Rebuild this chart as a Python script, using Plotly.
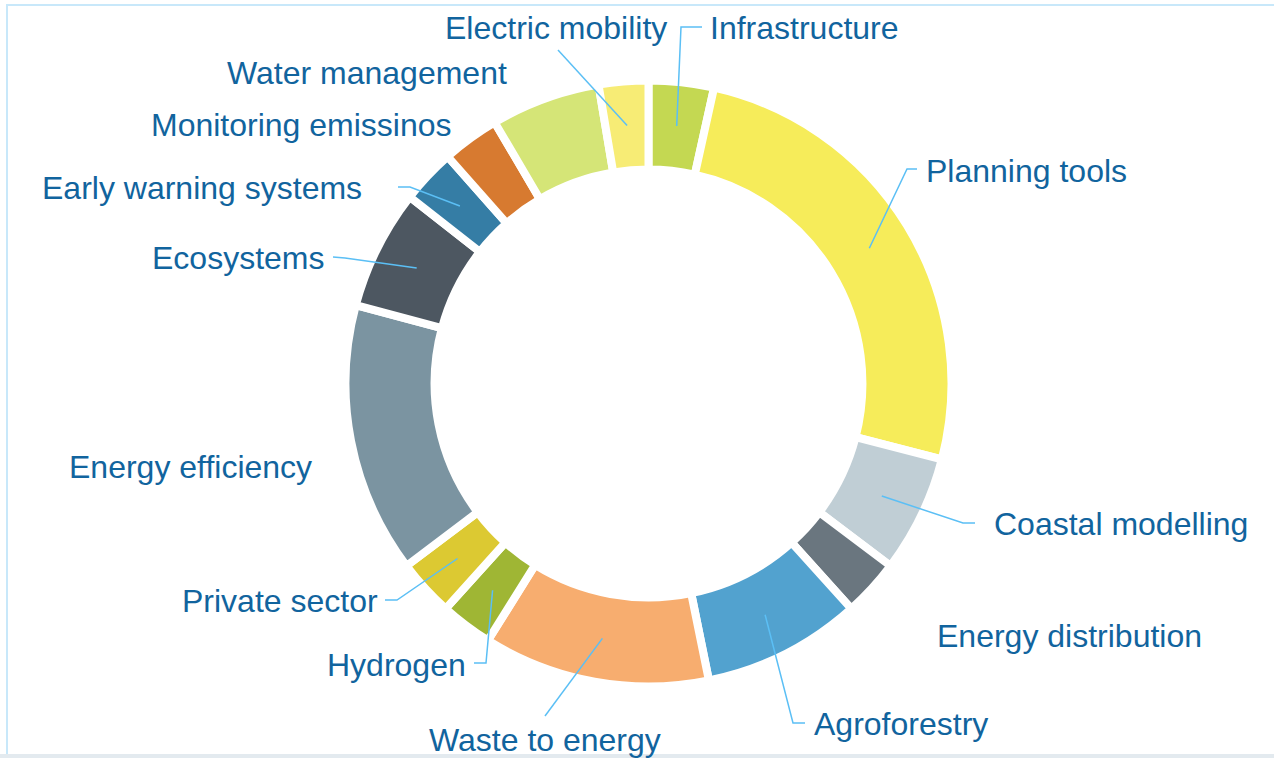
import math
import plotly.graph_objects as go

# share of projects per theme (clockwise from 12 o'clock)
themes = ["Infrastructure", "Planning tools", "Coastal modelling", "Energy distribution",
          "Agroforestry", "Waste to energy", "Hydrogen", "Private sector",
          "Energy efficiency", "Ecosystems", "Early warning systems",
          "Monitoring emissinos", "Water management", "Electric mobility"]
counts = [25, 184, 45, 22, 61, 87, 20, 22, 104, 46, 21, 22, 42, 19]

colors = ["#c4d852", "#f6ec5a", "#c0ced5", "#6a767f", "#52a2cf", "#f7ad6f", "#9fb634",
          "#dcc932", "#7b94a1", "#4d5761", "#357da5", "#d77a30", "#d5e577", "#f7ec75"]

W, H = 1274, 758
CX, CY = 648.5, 383.5     # donut centre in px
R = 303                    # outer radius incl. white border
TEXT = "#11649e"
LINE = "#5bbff5"

# label layout: text x, y, anchor, leader knee, leader end (None = no leader)
labels = {
    "Infrastructure":        (708, 28, "left",   (681, 27), (702, 27)),
    "Planning tools":        (924, 171, "left",  (907, 169), (917, 169)),
    "Coastal modelling":     (992, 524, "left",  (963, 523), (975, 523)),
    "Energy distribution":   (935, 636, "left",  None, None),
    "Agroforestry":          (812, 724, "left",  (793, 723), (805, 723)),
    "Waste to energy":       (545, 740, "center", (545, 716), (545, 716)),
    "Hydrogen":              (468, 665, "right", (486, 663), (474, 663)),
    "Private sector":        (380, 601, "right", (397, 600), (385, 600)),
    "Energy efficiency":     (314, 467, "right", None, None),
    "Ecosystems":            (326, 258, "right", (345, 258), (333, 257)),
    "Early warning systems": (364, 188, "right", (410, 187), (398, 187)),
    "Monitoring emissinos":  (454, 125, "right", None, None),
    "Water management":      (509, 73, "right",  None, None),
    "Electric mobility":     (669, 28, "right",  (558, 50), (558, 50)),
}

fig = go.Figure()

fig.add_trace(go.Pie(
    labels=themes, values=counts, sort=False, direction="clockwise", rotation=0,
    hole=0.706, textinfo="none", hoverinfo="label+value",
    marker=dict(colors=colors, line=dict(color="white", width=8)),
    domain=dict(x=[(CX - R) / W, (CX + R) / W], y=[(H - CY - R) / H, (H - CY + R) / H]),
    showlegend=False,
))

# leader lines from slice middle out to the label (shapes so they sit above the pie)
total = sum(counts)
cum = 0
for name, v in zip(themes, counts):
    mid = math.radians((cum + v / 2) / total * 360)
    cum += v
    tx, ty, anchor, knee, end = labels[name]
    if knee is not None:
        x0 = CX + 259 * math.sin(mid)
        y0 = CY - 259 * math.cos(mid)
        fig.add_shape(type="path", xref="x", yref="y", layer="above",
                      path=f"M {x0:.1f} {y0:.1f} L {knee[0]} {knee[1]} L {end[0]} {end[1]}",
                      line=dict(color=LINE, width=1.5))
    fig.add_annotation(x=tx, y=ty, xref="x", yref="y", text=name, showarrow=False,
                       xanchor=anchor, yanchor="middle",
                       font=dict(family="Liberation Sans, Arial", size=32, color=TEXT))

# frame
fig.add_shape(type="rect", xref="x", yref="y", x0=7, y0=5, x1=1290, y1=760,
              line=dict(color="#c8e8fa", width=2), layer="below")
fig.add_shape(type="rect", xref="x", yref="y", x0=0, y0=754, x1=W, y1=H,
              line=dict(width=0), fillcolor="#e3eaef", layer="below")

fig.update_layout(
    width=W, height=H, margin=dict(l=0, r=0, t=0, b=0),
    paper_bgcolor="white", plot_bgcolor="rgba(0,0,0,0)",
    xaxis=dict(range=[0, W], visible=False, fixedrange=True),
    yaxis=dict(range=[H, 0], visible=False, fixedrange=True),
)

fig.write_html("out.html", config={"displayModeBar": False},
               post_script="document.body.style.margin='0';")
